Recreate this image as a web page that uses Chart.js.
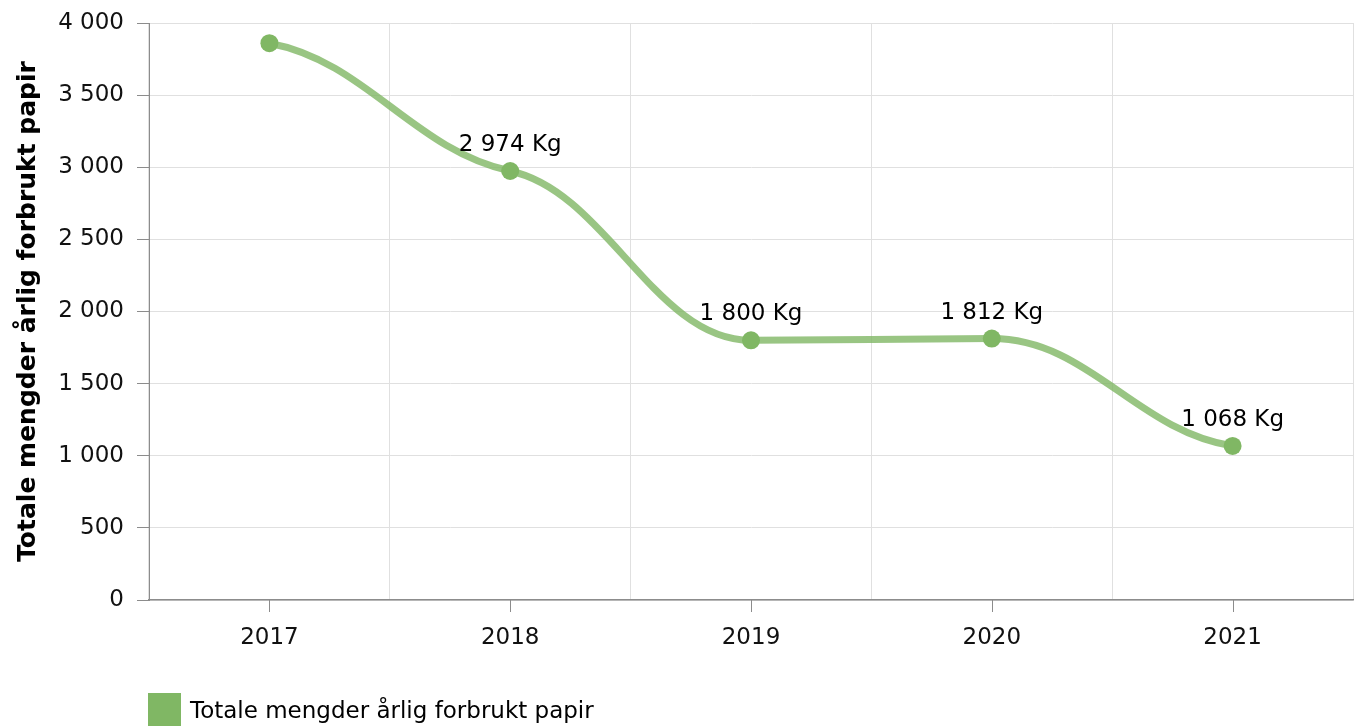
<!DOCTYPE html>
<html>
<head>
<meta charset="utf-8">
<script src="https://cdn.jsdelivr.net/npm/chart.js@4"></script>
<style>
  html, body { margin: 0; padding: 0; background: #fff; overflow: hidden; }
  canvas { display: block; }
</style>
</head>
<body>
<canvas id="paperChart" width="1354" height="727"></canvas>
<script>
const years = ["2017", "2018", "2019", "2020", "2021"];
const paperKg = [3860, 2974, 1800, 1812, 1068];
const seriesName = "Totale mengder årlig forbrukt papir";
const yTicks = [0, 500, 1000, 1500, 2000, 2500, 3000, 3500, 4000];

const pointColor = "#80b764";
const lineColor = "rgba(128, 183, 100, 0.8)";
const axisColor = "#8c8c8c";
const gridColor = "#e0e0e0";

Chart.defaults.font.family = "'DejaVu Sans', Verdana, sans-serif";
Chart.defaults.font.size = 23;
Chart.defaults.color = "#111";

// "2974" -> "2 974"
function spaced(v) {
    return String(Math.round(v)).replace(/\B(?=(\d{3})+(?!\d))/g, " ");
}

// spline: control points 0.4 of a step sideways, gentle tangents, flat at extremes
const splinePoints = {
    id: "splinePoints",
    beforeDatasetDraw(chart, args) {
        const line = args.meta.dataset;
        const pts = args.meta.data;
        line.updateControlPoints(chart.chartArea);
        const reach = 0.4, flat = 0.35;
        pts.forEach((p, i) => {
            const prev = pts[i - 1] || p, next = pts[i + 1] || p;
            let slope = (next.y - prev.y) / (next.x - prev.x || 1);
            if ((p.y - prev.y) * (next.y - p.y) < 0) slope = 0; // local extreme
            slope *= flat;
            const dl = prev === p ? 0 : (p.x - prev.x) * reach;
            const dr = next === p ? 0 : (next.x - p.x) * reach;
            p.cp1x = p.x - dl; p.cp1y = p.y - slope * dl;
            p.cp2x = p.x + dr; p.cp2y = p.y + slope * dr;
        });
        // ends: lean the free handle toward the neighbour
        const first = pts[0], last = pts[pts.length - 1];
        if (pts.length > 1) {
            const s0 = (pts[1].y - first.y) / (pts[1].x - first.x) * flat;
            first.cp2y = first.y + s0 * (first.cp2x - first.x);
            const n = pts[pts.length - 2];
            const s1 = (last.y - n.y) / (last.x - n.x) * flat;
            last.cp1y = last.y - s1 * (last.x - last.cp1x);
        }
    }
};

// value labels above points, hidden when they would stick out of the plot
const valueLabels = {
    id: "valueLabels",
    afterDatasetsDraw(chart) {
        const ctx = chart.ctx;
        const meta = chart.getDatasetMeta(0);
        ctx.save();
        ctx.font = "23px 'DejaVu Sans'";
        ctx.fillStyle = "#000";
        ctx.textAlign = "center";
        ctx.textBaseline = "alphabetic";
        meta.data.forEach((pt, i) => {
            const baseY = pt.y - 20;
            if (baseY - 17 < chart.chartArea.top) return;
            ctx.fillText(spaced(paperKg[i]) + " Kg", pt.x, baseY);
        });
        ctx.restore();
    }
};

// tick marks under category centres + legend under the plot
const extras = {
    id: "extras",
    afterDraw(chart) {
        const ctx = chart.ctx;
        const x = chart.scales.x;
        const area = chart.chartArea;
        ctx.save();
        ctx.strokeStyle = axisColor;
        ctx.lineWidth = 1;
        x.ticks.forEach((t, i) => {
            const px = Math.round(x.getPixelForTick(i)) + 0.5;
            ctx.beginPath();
            ctx.moveTo(px, area.bottom);
            ctx.lineTo(px, area.bottom + 12);
            ctx.stroke();
        });
        // legend
        const lx = area.left - 1;
        const ly = area.bottom + 93;
        ctx.fillStyle = pointColor;
        ctx.fillRect(lx, ly, 33, 33);
        ctx.fillStyle = "#000";
        ctx.font = "23px 'DejaVu Sans'";
        ctx.textAlign = "left";
        ctx.textBaseline = "alphabetic";
        ctx.fillText(chart.data.datasets[0].label, lx + 42, ly + 25);
        ctx.restore();
    }
};

const ctx = document.getElementById("paperChart").getContext("2d");

const config = {
    type: "line",
    data: {
        labels: years,
        datasets: [{
            label: seriesName,
            data: paperKg,
            borderColor: lineColor,
            borderWidth: 7,
            tension: 0.4,
            pointRadius: 9,
            pointHoverRadius: 9,
            pointBackgroundColor: pointColor,
            pointBorderWidth: 0,
            fill: false
        }]
    },
    options: {
        responsive: false,
        animation: false,
        layout: { autoPadding: false, padding: { top: 23, right: 1, bottom: 0, left: 0 } },
        plugins: {
            legend: { display: false },
            tooltip: { enabled: false }
        },
        scales: {
            x: {
                offset: true,
                grid: { offset: true, color: gridColor, drawTicks: false },
                border: { color: axisColor, width: 1.5 },
                ticks: { padding: 24, color: "#111" },
                afterFit(scale) {
                    scale.height = 127;
                    scale.paddingLeft = 0;
                    scale.paddingRight = 0;
                }
            },
            y: {
                min: 0,
                max: 4000,
                afterBuildTicks(scale) {
                    scale.ticks = yTicks.map(v => ({ value: v }));
                },
                grid: { color: gridColor, tickLength: 12, tickColor: axisColor },
                border: { color: axisColor },
                ticks: {
                    padding: 13,
                    color: "#111",
                    callback: v => spaced(v)
                },
                title: {
                    display: true,
                    text: seriesName,
                    font: { size: 25, weight: "bold" },
                    color: "#000",
                    padding: { top: 13, bottom: 0 }
                },
                afterFit(scale) {
                    scale.width = 149;
                    scale.paddingTop = 0;
                    scale.paddingBottom = 0;
                }
            }
        }
    },
    plugins: [splinePoints, valueLabels, extras]
};

let paperChart = new Chart(ctx, config);
</script>
</body>
</html>
